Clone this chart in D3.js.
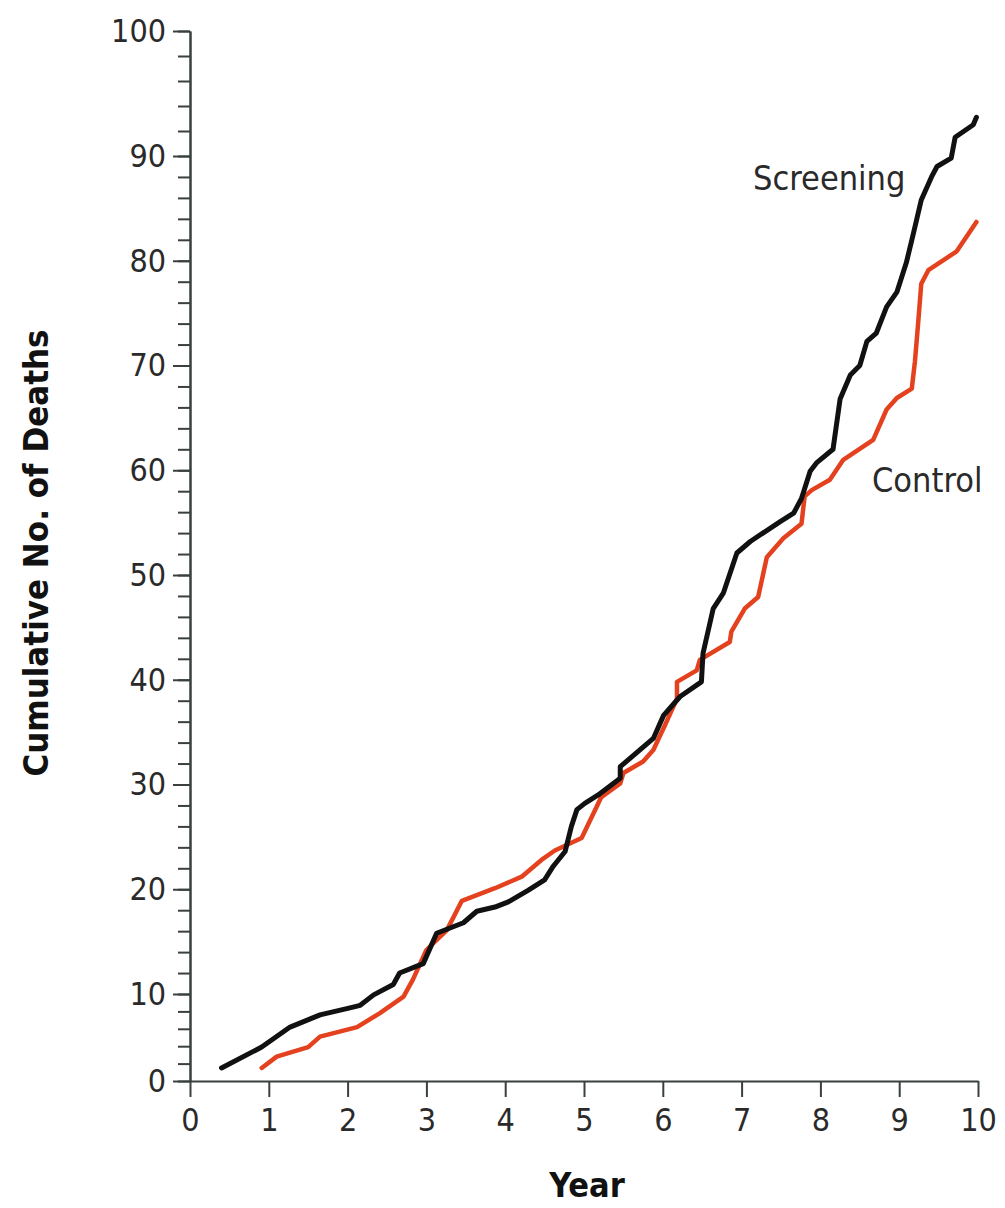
<!DOCTYPE html>
<html>
<head>
<meta charset="utf-8">
<script src="https://cdn.jsdelivr.net/npm/d3@7"></script>
<style>
  body { margin: 0; background: #fff; }
  .tick text { font-family: "DejaVu Sans", sans-serif; font-stretch: condensed; fill: #2a2a2a; }
  .curveLabel { font-family: "DejaVu Sans", sans-serif; font-stretch: condensed; fill: #2a2a2a; }
  .axisTitle { font-family: "DejaVu Sans", sans-serif; font-stretch: condensed; font-weight: bold; fill: #111; }
</style>
</head>
<body>
<div id="chart"></div>
<script>
// years since randomization
var screeningYears = [0.40, 0.91, 1.27, 1.65, 2.03, 2.16, 2.33, 2.58, 2.66, 2.96, 3.13, 3.47, 3.64, 3.87, 4.04,
  4.29, 4.50, 4.61, 4.76, 4.84, 4.91, 5.01, 5.18, 5.46, 5.46, 5.88, 6.01, 6.22, 6.49, 6.51, 6.64, 6.77, 6.94,
  7.11, 7.49, 7.66, 7.76, 7.87, 7.95, 8.16, 8.25, 8.38, 8.50, 8.59, 8.71, 8.84, 8.97, 9.09, 9.18, 9.28,
  9.41, 9.48, 9.66, 9.71, 9.94, 9.98];
var screeningDeaths = [1.5, 3.9, 6.2, 7.6, 8.4, 8.7, 9.9, 10.9, 12.0, 12.9, 15.8, 16.8, 17.9, 18.3, 18.8,
  19.9, 20.9, 22.2, 23.6, 26.0, 27.6, 28.2, 29.0, 30.6, 31.7, 34.4, 36.6, 38.4, 39.8, 42.5, 46.8, 48.3, 52.1,
  53.2, 55.1, 55.9, 57.3, 59.9, 60.7, 62.0, 66.8, 69.1, 70.0, 72.3, 73.1, 75.6, 77.0, 79.8, 82.6, 85.8,
  88.0, 89.0, 89.8, 91.5, 92.5, 93.1];

var controlYears = [0.91, 1.10, 1.50, 1.65, 2.12, 2.41, 2.71, 2.83, 3.00, 3.26, 3.45, 3.87, 4.21, 4.46, 4.63,
  4.97, 5.22, 5.46, 5.50, 5.75, 5.88, 6.03, 6.18, 6.18, 6.43, 6.47, 6.85, 6.87, 7.04, 7.21, 7.32, 7.53,
  7.76, 7.80, 7.89, 8.12, 8.29, 8.67, 8.84, 8.97, 9.16, 9.20, 9.24, 9.28, 9.37, 9.73, 9.98];
var controlDeaths = [1.5, 2.8, 3.9, 5.1, 6.2, 7.8, 9.7, 11.4, 14.2, 16.1, 18.9, 20.1, 21.2, 22.8, 23.7,
  24.9, 28.8, 30.1, 31.1, 32.2, 33.3, 35.7, 38.2, 39.8, 40.9, 41.9, 43.6, 44.6, 46.8, 47.9, 51.7, 53.5,
  54.9, 57.5, 58.1, 59.1, 61.0, 62.9, 65.8, 66.9, 67.8, 70.4, 74.0, 77.8, 79.1, 80.9, 83.7];

var xTicks = d3.range(0, 11, 1);
var yMajorTicks = d3.range(0, 101, 10);
var yMinorTicks = d3.range(0, 101, 2);

var svgWidth = 1005;
var svgHeight = 1208;

var margin = {
  top: 31,
  right: 27,
  bottom: 127,
  left: 190
};

var width = svgWidth - margin.left - margin.right;
var height = svgHeight - margin.top - margin.bottom;

var svg = d3.select("#chart")
  .append("svg")
  .attr("width", svgWidth)
  .attr("height", svgHeight);

var chartGroup = svg.append("g")
  .attr("transform", `translate(${margin.left}, ${margin.top})`);

var xLinearScale = d3.scaleLinear()
  .domain([0, 10])
  .range([0, width]);

// the printed axis is not evenly spaced at its ends
var yLinearScale = d3.scaleLinear()
  .domain([0, 10, 90, 100])
  .range([height, height - 87, 125, 0]);

// minor ticks
chartGroup.append("g")
  .attr("class", "axis")
  .call(d3.axisLeft(yLinearScale).tickValues(yMinorTicks).tickSize(12).tickSizeOuter(0).tickFormat(""));

// major ticks + labels
var leftAxis = chartGroup.append("g")
  .attr("class", "axis")
  .call(d3.axisLeft(yLinearScale).tickValues(yMajorTicks).tickSize(17).tickSizeOuter(0).tickPadding(7));
leftAxis.selectAll("text").attr("font-size", "32px").attr("font-family", null);

var bottomAxis = chartGroup.append("g")
  .attr("class", "axis")
  .attr("transform", `translate(0, ${height})`)
  .call(d3.axisBottom(xLinearScale).tickValues(xTicks).tickSize(16).tickSizeOuter(0).tickPadding(11));
bottomAxis.selectAll("text").attr("font-size", "32px").attr("font-family", null);

chartGroup.selectAll(".axis path, .axis line")
  .attr("stroke", "#39403f")
  .attr("stroke-width", 2);

var line = d3.line()
  .x(d => xLinearScale(d[0]))
  .y(d => yLinearScale(d[1]));

var controlData = d3.zip(controlYears, controlDeaths);
var screeningData = d3.zip(screeningYears, screeningDeaths);

chartGroup.append("path")
  .datum(controlData)
  .attr("d", line)
  .attr("fill", "none")
  .attr("stroke", "#e4411e")
  .attr("stroke-width", 4.5)
  .attr("stroke-linejoin", "round")
  .attr("stroke-linecap", "round");

chartGroup.append("path")
  .datum(screeningData)
  .attr("d", line)
  .attr("fill", "none")
  .attr("stroke", "#111")
  .attr("stroke-width", 5)
  .attr("stroke-linejoin", "round")
  .attr("stroke-linecap", "round");

// series labels
svg.append("text")
  .attr("class", "curveLabel")
  .attr("x", 753)
  .attr("y", 190)
  .attr("font-size", "34px")
  .text("Screening");

svg.append("text")
  .attr("class", "curveLabel")
  .attr("x", 872)
  .attr("y", 492)
  .attr("font-size", "34px")
  .text("Control");

// axis titles
svg.append("text")
  .attr("class", "axisTitle")
  .attr("transform", "translate(48, 553) rotate(-90)")
  .attr("text-anchor", "middle")
  .attr("font-size", "34.5px")
  .text("Cumulative No. of Deaths");

svg.append("text")
  .attr("class", "axisTitle")
  .attr("x", 587)
  .attr("y", 1197)
  .attr("text-anchor", "middle")
  .attr("font-size", "34px")
  .text("Year");
</script>
</body>
</html>
